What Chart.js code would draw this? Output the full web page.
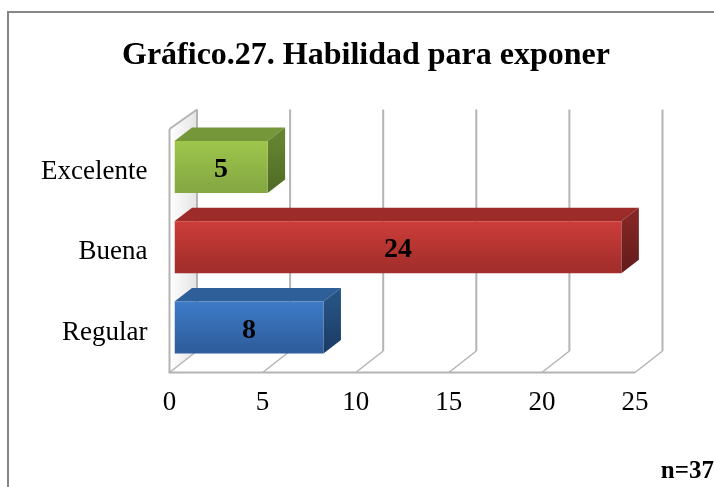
<!DOCTYPE html>
<html>
<head>
<meta charset="utf-8">
<title>Gráfico 27</title>
<script src="https://cdn.jsdelivr.net/npm/chart.js@4"></script>
<style>
    html, body { margin: 0; padding: 0; background: #fff; overflow: hidden; }
    canvas { display: block; }
</style>
</head>
<body>
<canvas id="chart" width="714" height="487"></canvas>
<script>
const categories = ['Excelente', 'Buena', 'Regular'];
const values = [5, 24, 8];
const titleText = 'Gráfico.27. Habilidad para exponer';
const noteText = 'n=37';

const SERIF = "'Liberation Serif', serif";
const GRID = '#b4b4b4';

// front / top / side colours of each bar
const barColors = [
    { front: ['#a0c94c', '#86a943'], top: '#76963a', side: ['#648330', '#4f6a25'] },
    { front: ['#d13e3b', '#a32e2b'], top: '#9c2b29', side: ['#812624', '#611b1a'] },
    { front: ['#3f7fcd', '#2f5e9e'], top: '#2e5f99', side: ['#265282', '#1b3a63'] }
];

// offsets of the fake 3D box
const wall = { dx: 27.5, dy: -21.5, top: 109.5 };
const bar3d = { dx: 17.5, dy: -13.5, shiftX: 5, shiftY: -5 };

function frontGradient(context) {
    const { chart, dataIndex } = context;
    const c = barColors[dataIndex === undefined ? 0 : dataIndex];
    const cy = chart.scales.y ? chart.scales.y.getPixelForValue(dataIndex) + bar3d.shiftY : NaN;
    // scales are not laid out yet on the first pass
    if (!chart.chartArea || !isFinite(cy)) return c.front[0];
    const g = chart.ctx.createLinearGradient(0, cy - 26, 0, cy + 26);
    g.addColorStop(0, c.front[0]);
    g.addColorStop(1, c.front[1]);
    return g;
}

function line(ctx, x1, y1, x2, y2) {
    ctx.beginPath();
    ctx.moveTo(x1, y1);
    ctx.lineTo(x2, y2);
    ctx.stroke();
}

const box3d = {
    id: 'box3d',
    afterLayout(chart) {
        // title sits right of the canvas centre, its block ends at the plot's right edge
        chart.titleBlock.left = 97;
    },
    beforeDraw(chart) {
        const ctx = chart.ctx;
        ctx.save();
        // outer frame, bottom and right are cut by the picture
        ctx.strokeStyle = '#868686';
        ctx.lineWidth = 2;
        ctx.beginPath();
        ctx.moveTo(8, 487);
        ctx.lineTo(8, 12);
        ctx.lineTo(714, 12);
        ctx.stroke();
        ctx.restore();
    },
    beforeDatasetsDraw(chart) {
        const ctx = chart.ctx;
        const x = chart.scales.x;
        const { top, bottom } = chart.chartArea;
        const x0 = x.getPixelForValue(0);
        ctx.save();

        // left wall
        const shade = ctx.createLinearGradient(x0, 0, x0 + wall.dx, 0);
        shade.addColorStop(0, '#ffffff');
        shade.addColorStop(1, '#e4e4e4');
        ctx.fillStyle = shade;
        ctx.beginPath();
        ctx.moveTo(x0, top - 3);
        ctx.lineTo(x0 + wall.dx, wall.top);
        ctx.lineTo(x0 + wall.dx, bottom + wall.dy);
        ctx.lineTo(x0, bottom);
        ctx.closePath();
        ctx.fill();

        ctx.strokeStyle = GRID;
        ctx.lineWidth = 2;
        x.ticks.forEach(t => {
            const px = x.getPixelForValue(t.value);
            line(ctx, px + wall.dx, wall.top, px + wall.dx, bottom + wall.dy);
            ctx.lineWidth = 1.5;
            line(ctx, px, bottom, px + wall.dx, bottom + wall.dy);
            ctx.lineWidth = 2;
        });
        line(ctx, x0, top - 3, x0, bottom);
        line(ctx, x0, top - 3, x0 + wall.dx, wall.top);
        line(ctx, x0 - 1, bottom, x.getPixelForValue(25), bottom);
        ctx.restore();

        // bars get shifted off the front plane, top and side faces go under them
        ctx.save();
        ctx.translate(bar3d.shiftX, bar3d.shiftY);
        chart.getDatasetMeta(0).data.forEach((el, i) => {
            const y1 = el.y - el.height / 2;
            const y2 = el.y + el.height / 2;
            const c = barColors[i];
            ctx.fillStyle = c.top;
            ctx.beginPath();
            ctx.moveTo(el.base, y1);
            ctx.lineTo(el.base + bar3d.dx, y1 + bar3d.dy);
            ctx.lineTo(el.x + bar3d.dx, y1 + bar3d.dy);
            ctx.lineTo(el.x, y1);
            ctx.closePath();
            ctx.fill();
            const g = ctx.createLinearGradient(0, y1, 0, y2);
            g.addColorStop(0, c.side[0]);
            g.addColorStop(1, c.side[1]);
            ctx.fillStyle = g;
            ctx.beginPath();
            ctx.moveTo(el.x, y1);
            ctx.lineTo(el.x + bar3d.dx, y1 + bar3d.dy);
            ctx.lineTo(el.x + bar3d.dx, y2 + bar3d.dy);
            ctx.lineTo(el.x, y2);
            ctx.closePath();
            ctx.fill();
        });
        ctx.restore();

        ctx.save();
        ctx.translate(bar3d.shiftX, bar3d.shiftY);
    },
    afterDatasetsDraw(chart) {
        const ctx = chart.ctx;
        ctx.restore();

        // value labels
        ctx.save();
        ctx.font = 'bold 28px ' + SERIF;
        ctx.fillStyle = '#000';
        ctx.textAlign = 'center';
        ctx.textBaseline = 'middle';
        chart.getDatasetMeta(0).data.forEach((el, i) => {
            const cx = (el.base + el.x) / 2 + bar3d.shiftX;
            ctx.fillText(String(values[i]), cx, el.y + bar3d.shiftY + 3);
        });
        ctx.font = 'bold 25px ' + SERIF;
        ctx.textAlign = 'right';
        ctx.textBaseline = 'alphabetic';
        ctx.fillText(noteText, 714, 478);
        ctx.restore();
    }
};

new Chart(document.getElementById('chart'), {
    type: 'bar',
    data: {
        labels: categories,
        datasets: [{
            data: values,
            backgroundColor: frontGradient,
            borderWidth: 0,
            barPercentage: 0.649,
            categoryPercentage: 1
        }]
    },
    options: {
        indexAxis: 'y',
        responsive: false,
        animation: false,
        layout: { padding: { left: 0, right: 79, top: 0, bottom: 0 } },
        plugins: {
            legend: { display: false },
            tooltip: { enabled: false },
            title: {
                display: true,
                text: titleText,
                color: '#000',
                font: { family: SERIF, size: 32, weight: 'bold' },
                padding: { top: 37, bottom: 56.6 }
            }
        },
        scales: {
            x: {
                min: 0,
                max: 25,
                grid: { display: false },
                border: { display: false },
                ticks: {
                    stepSize: 5,
                    maxRotation: 0,
                    color: '#000',
                    padding: 6,
                    font: { family: SERIF, size: 27 }
                },
                afterFit(axis) { axis.height = 114.5; }
            },
            y: {
                grid: { display: false },
                border: { display: false },
                ticks: {
                    color: '#000',
                    padding: 14,
                    font: { family: SERIF, size: 27 }
                },
                afterFit(axis) { axis.width = 169.5; }
            }
        }
    },
    plugins: [box3d]
});
</script>
</body>
</html>
